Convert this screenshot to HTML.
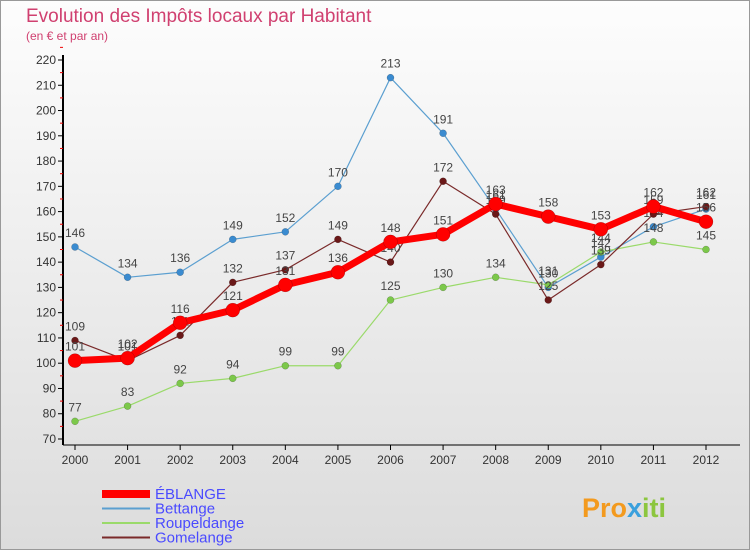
<!DOCTYPE html>
<html><head><meta charset="utf-8"><style>
body{margin:0;width:750px;height:550px;overflow:hidden;font-family:"Liberation Sans",sans-serif}
svg text{font-family:"Liberation Sans",sans-serif}
</style></head><body>
<svg width="750" height="550">
<defs><linearGradient id="bg" x1="0" y1="0" x2="0" y2="1"><stop offset="0" stop-color="#fdfdfd"/><stop offset="1" stop-color="#dcdcdc"/></linearGradient></defs>
<rect x="0.5" y="0.5" width="749" height="549" fill="url(#bg)" stroke="#999"/>
<text x="26" y="22" font-size="19" fill="#d04070">Evolution des Impôts locaux par Habitant</text>
<text x="26" y="40" font-size="12" fill="#d04070">(en € et par an)</text>
<g id="axes"></g><g id="series"></g><g id="legend"></g>
<text x="582" y="517" font-size="27" font-weight="bold" fill="#f39a1e">Pro<tspan fill="#3aa0dd">x</tspan><tspan fill="#8cc63f">iti</tspan></text>
</svg>
<script>
const years=[2000,2001,2002,2003,2004,2005,2006,2007,2008,2009,2010,2011,2012];
const eblange=[101,102,116,121,131,136,148,151,163,158,153,162,156];
const bettange=[146,134,136,149,152,170,213,191,161,130,142,154,161];
const roupeldange=[77,83,92,94,99,99,125,130,134,131,144,148,145];
const gomelange=[109,101,111,132,137,149,140,172,159,125,139,159,162];
const yTicks=[70,80,90,100,110,120,130,140,150,160,170,180,190,200,210,220];
const NS="http://www.w3.org/2000/svg";
const x=i=>75+i*(706-75)/12;
const y=v=>439-(v-70)*(439-60)/150;
function mk(t,a,p){const e=document.createElementNS(NS,t);for(const k in a)e.setAttribute(k,a[k]);p.appendChild(e);return e;}
const ax=document.getElementById('axes');
const yl=mk('line',{x1:63,y1:55,x2:63,y2:445,stroke:'#000','stroke-width':2},ax);


const xl=mk('line',{x1:63,y1:445,x2:740,y2:445,stroke:'#000','stroke-width':1},ax);


yTicks.forEach(v=>{
 mk('line',{x1:58,y1:y(v),x2:63,y2:y(v),stroke:'#000'},ax);
 mk('line',{x1:60,y1:y(v+5),x2:63,y2:y(v+5),stroke:'#e00'},ax);
 const t=mk('text',{x:56,y:y(v)+4,'text-anchor':'end','font-size':12,fill:'#333'},ax);t.textContent=v;
 
 
});
years.forEach((yr,i)=>{
 mk('line',{x1:x(i),y1:445,x2:x(i),y2:450,stroke:'#000'},ax);
 const t=mk('text',{x:x(i),y:464,'text-anchor':'middle','font-size':12,fill:'#333'},ax);t.textContent=yr;
 
 
});
const sg=document.getElementById('series');
function series(name,data,col,dot,w,r){
 const g=mk('g',{},sg);
 
 
 const pl=mk('polyline',{points:data.map((v,i)=>x(i)+','+y(v)).join(' '),fill:'none',stroke:col,'stroke-width':w,'stroke-linejoin':'round'},g);
 
 
 data.forEach((v,i)=>{
  const c=mk('circle',{cx:x(i),cy:y(v),r:r,fill:dot,stroke:'rgba(0,0,0,0.3)','stroke-width':0.5},g);
  
  
  const t=mk('text',{x:x(i),y:y(v)-10,'text-anchor':'middle','font-size':12,fill:'#444'},g);t.textContent=v;
  
  
 });
}
series('bettange',bettange,'#5b9fd0','#3a8bd0',1.2,3.5);
series('roupeldange',roupeldange,'#9ada6a','#7cc84a',1.2,3.5);
series('gomelange',gomelange,'#7a2a2a','#6a1818',1.2,3.5);
series('eblange',eblange,'#ff0000','#ff0000',7,7);
const lg=document.getElementById('legend');
[['ÉBLANGE','#ff0000',8],['Bettange','#5b9fd0',2],['Roupeldange','#9ada6a',2],['Gomelange','#7a2a2a',2]].forEach((e,i)=>{
 const yy=494+i*14.5;
 const l=mk('line',{x1:102,y1:yy,x2:150,y2:yy,stroke:e[1],'stroke-width':e[2]},lg);
 
 
 const t=mk('text',{x:155,y:yy+5,'font-size':15,fill:'#4a4aff'},lg);t.textContent=e[0];
 
 
});
</script>
</body></html>
